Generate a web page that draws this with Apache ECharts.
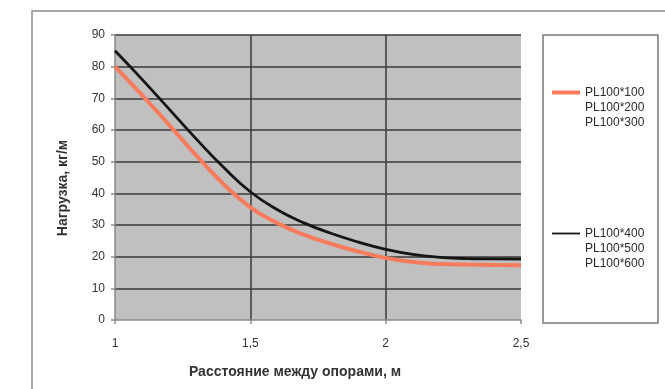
<!DOCTYPE html>
<html>
<head>
<meta charset="utf-8">
<script src="https://cdn.jsdelivr.net/npm/echarts@6/dist/echarts.min.js"></script>
<style>
html,body{margin:0;padding:0;background:#fff;}
#c{width:665px;height:389px;}
</style>
</head>
<body>
<div id="c"></div>
<script>
// Data
var spans = [1.0, 1.1, 1.2, 1.3, 1.4, 1.5, 1.6, 1.7, 1.8, 1.9, 2.0, 2.1, 2.2, 2.3, 2.4, 2.5];
var loadLight = [80, 71, 61.6, 52, 43, 35.6, 30.6, 26.9, 24, 21.6, 19.6, 18.3, 17.7, 17.5, 17.4, 17.3];
var loadHeavy = [85, 76, 66.6, 57.2, 48.3, 40.5, 34.8, 30.6, 27.3, 24.6, 22.3, 20.7, 19.8, 19.4, 19.3, 19.2];
var nameLight = 'PL100*100\nPL100*200\nPL100*300';
var nameHeavy = 'PL100*400\nPL100*500\nPL100*600';
var xTickValues = [1, 1.5, 2, 2.5];
var xTickLabels = ['1', '1,5', '2', '2,5'];
var yTicks = [0, 10, 20, 30, 40, 50, 60, 70, 80, 90];
var xTitle = 'Расстояние между опорами, м';
var yTitle = 'Нагрузка, кг/м';

function pairs(xs, ys) { return xs.map(function (x, i) { return [x, ys[i]]; }); }

var font = 'Liberation Sans, Arial, sans-serif';
var chart = echarts.init(document.getElementById('c'), null, {renderer: 'canvas'});
chart.setOption({
  animation: false,
  backgroundColor: '#ffffff',
  graphic: [
    {type: 'rect', shape: {x: 32, y: 11, width: 700, height: 420}, style: {fill: 'none', stroke: '#8a8a8a', lineWidth: 1.5}, silent: true, z: 0},
    {type: 'rect', shape: {x: 543, y: 35, width: 115, height: 288}, style: {fill: '#ffffff', stroke: '#7a7a7a', lineWidth: 1.5}, silent: true, z: 1}
  ],
  grid: {left: 115, right: 144, top: 35, bottom: 69, show: true, backgroundColor: '#c0c0c0', borderWidth: 0},
  legend: {
    orient: 'vertical', left: 547, top: 50, itemGap: 66, itemWidth: 28, itemHeight: 14,
    padding: 5, z: 5, symbolKeepAspect: true,
    formatter: function (name) { return '\n\n' + name; },
    textStyle: {fontFamily: font, fontSize: 12, color: '#2a2a2a', lineHeight: 15},
    data: [
      {name: nameLight, icon: 'path://M0,0H28V4H0Z'},
      {name: nameHeavy, icon: 'path://M0,0H28V1.8H0Z'}
    ]
  },
  xAxis: {
    type: 'value', min: 1, max: 2.5, interval: 0.5,
    name: xTitle, nameLocation: 'middle', nameGap: 45,
    nameTextStyle: {fontFamily: font, fontSize: 14, fontWeight: 'bold', color: '#333', padding: [0, 46, 0, 0]},
    axisLine: {show: true, lineStyle: {color: '#8a8a8a', width: 1.5}},
    axisTick: {show: true, length: 4, lineStyle: {color: '#8a8a8a', width: 1.5}},
    axisLabel: {fontFamily: font, fontSize: 12, color: '#333', margin: 18,
      formatter: function (v) { var i = xTickValues.indexOf(v); return i >= 0 ? xTickLabels[i] : ''; }},
    splitLine: {show: true, showMinLine: false, showMaxLine: false, lineStyle: {color: '#3a3a3a', width: 1.5}}
  },
  yAxis: {
    type: 'value', min: yTicks[0], max: yTicks[yTicks.length - 1], interval: 10,
    name: yTitle, nameLocation: 'middle', nameGap: 45,
    nameTextStyle: {fontFamily: font, fontSize: 14, fontWeight: 'bold', color: '#333', padding: [0, 21, 0, 0]},
    axisLine: {show: true, lineStyle: {color: '#8a8a8a', width: 1.5}},
    axisTick: {show: true, length: 4, lineStyle: {color: '#8a8a8a', width: 1.5}},
    axisLabel: {fontFamily: font, fontSize: 12, color: '#333', margin: 10},
    splitLine: {show: true, showMinLine: false, lineStyle: {color: '#3a3a3a', width: 1.5}}
  },
  series: [
    {name: nameHeavy, type: 'line', smooth: true, symbol: 'none', data: pairs(spans, loadHeavy),
      lineStyle: {color: '#151515', width: 2.8}, itemStyle: {color: '#151515'}, z: 3},
    {name: nameLight, type: 'line', smooth: true, symbol: 'none', data: pairs(spans, loadLight),
      lineStyle: {color: '#f77b5c', width: 4}, itemStyle: {color: '#f77b5c'}, z: 4}
  ]
});
</script>
</body>
</html>
